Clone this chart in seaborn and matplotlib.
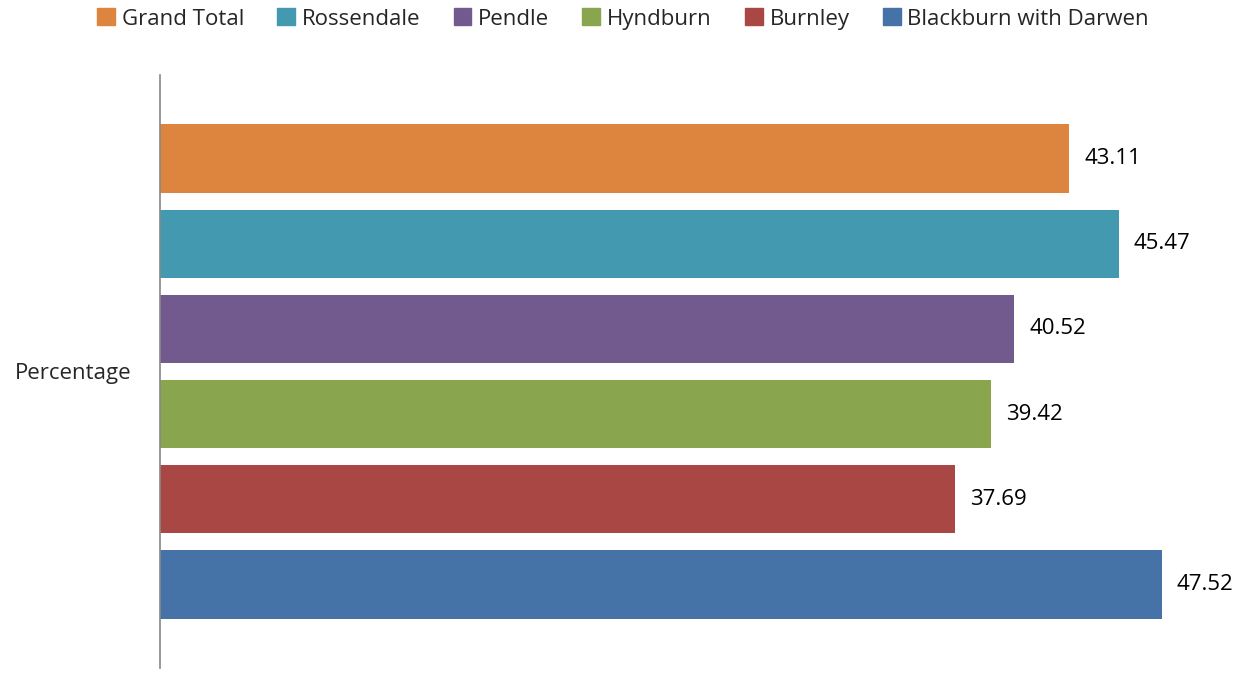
import pandas as pd
import seaborn as sns
import matplotlib.pyplot as plt

# chart data
series = ['Grand Total', 'Rossendale', 'Pendle', 'Hyndburn', 'Burnley', 'Blackburn with Darwen']
values = [43.11, 45.47, 40.52, 39.42, 37.69, 47.52]
colors = ['#DD843F', '#4299B0', '#725A8E', '#89A54E', '#A94745', '#4573A7']
category = 'Percentage'

df = pd.DataFrame({'series': series, 'value': values, 'cat': [category] * len(series)})

sns.set_style('white')
plt.rcParams['font.family'] = ['Open Sans', 'DejaVu Sans']

fig = plt.figure(figsize=(12.38, 6.94), dpi=100)
ax = fig.add_axes([160 / 1238, 1 - 668 / 694, (1214 - 160) / 1238, (668 - 75) / 694])

sns.barplot(data=df, x='value', y='cat', hue='series', orient='h',
            palette=colors, hue_order=series, width=0.862, gap=0.2,
            saturation=1, linewidth=0, ax=ax, legend=True)

ax.set_xlim(0, 50)
ax.set_ylim(0.5, -0.5)

for cont in ax.containers:
    ax.bar_label(cont, fmt='%.2f', padding=11, fontsize=16, color='black')

ax.set_xlabel('')
ax.set_ylabel('')
ax.set_xticks([])
ax.set_yticks([])
for s in ['top', 'right', 'bottom']:
    ax.spines[s].set_visible(False)
ax.spines['left'].set_color('#888888')
ax.spines['left'].set_linewidth(1.2)

fig.text(73 / 1238, 1 - 374 / 694, category, fontsize=16, ha='center', va='center')

ax.legend_.remove()
handles = [plt.Rectangle((0, 0), 1, 1, color=c) for c in colors]
fig.legend(handles, series, loc='center', bbox_to_anchor=(623 / 1238, 1 - 19 / 694),
           ncol=6, frameon=False, fontsize=16, handlelength=0.8, handleheight=0.8,
           handletextpad=0.3, columnspacing=1.5, borderaxespad=0)

fig.savefig('out.png', dpi=100)
